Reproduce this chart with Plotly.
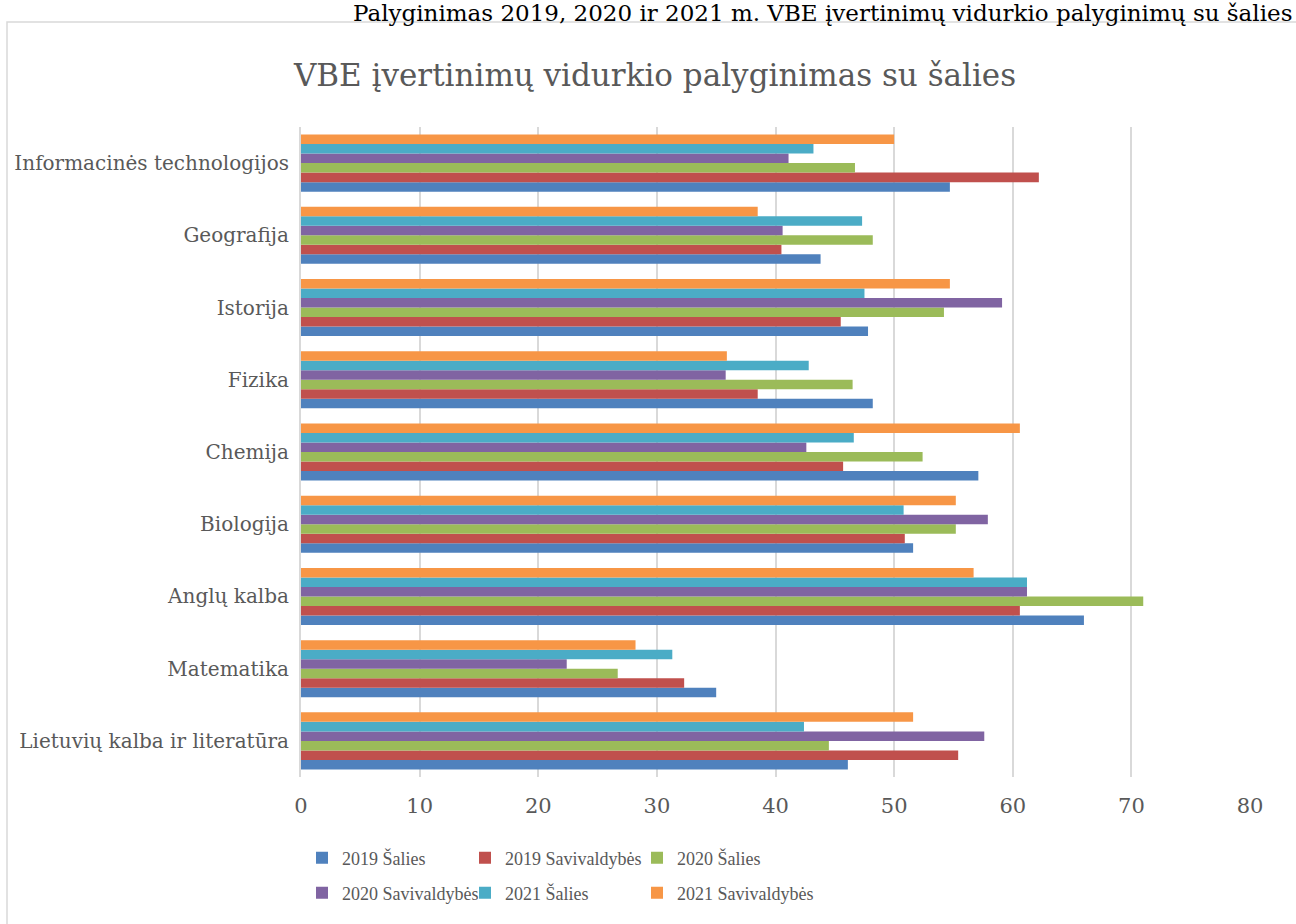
import plotly.graph_objects as go

categories = ["Lietuvių kalba ir literatūra", "Matematika", "Anglų kalba", "Biologija",
              "Chemija", "Fizika", "Istorija", "Geografija", "Informacinės technologijos"]

series_names = ["2019 Šalies", "2019 Savivaldybės", "2020 Šalies",
                "2020 Savivaldybės", "2021 Šalies", "2021 Savivaldybės"]

s2019_salies = [46.1, 35.0, 66.0, 51.6, 57.1, 48.2, 47.8, 43.8, 54.7]
s2019_sav = [55.4, 32.3, 60.6, 50.9, 45.7, 38.5, 45.5, 40.5, 62.2]
s2020_salies = [44.5, 26.7, 71.0, 55.2, 52.4, 46.5, 54.2, 48.2, 46.7]
s2020_sav = [57.6, 22.4, 61.2, 57.9, 42.6, 35.8, 59.1, 40.6, 41.1]
s2021_salies = [42.4, 31.3, 61.2, 50.8, 46.6, 42.8, 47.5, 47.3, 43.2]
s2021_sav = [51.6, 28.2, 56.7, 55.2, 60.6, 35.9, 54.7, 38.5, 50.0]

colors = ["#4F81BD", "#C0504D", "#9BBB59", "#8064A2", "#4BACC6", "#F79646"]
values = [s2019_salies, s2019_sav, s2020_salies, s2020_sav, s2021_salies, s2021_sav]

FONT = "DejaVu Serif"
LFONT = "Liberation Serif"
GRAY = "#595959"

W, H = 1296, 924
L, R, T, B = 301, 46, 127, 147
pw, ph = W - L - R, H - T - B


def px_x(p):
    return (p - L) / pw


def px_y(p):
    return (H - B - p) / ph


legend_ids = ["legend", "legend2", "legend3", "legend4", "legend5", "legend6"]
col_x = [302, 465, 637]
row_y = [858, 893]

fig = go.Figure()
for i, (name, vals, col) in enumerate(zip(series_names, values, colors)):
    fig.add_trace(go.Bar(
        x=vals, y=categories, orientation="h", name=name,
        marker=dict(color=col, line=dict(width=0)),
        legend=legend_ids[i],
    ))

legend_layout = {}
for i, lid in enumerate(legend_ids):
    legend_layout[lid] = dict(
        orientation="h", xanchor="left", yanchor="middle",
        x=px_x(col_x[i % 3]), y=px_y(row_y[i // 3]),
        font=dict(family=LFONT, size=18, color=GRAY),
        bgcolor="rgba(0,0,0,0)", borderwidth=0,
    )

fig.update_layout(
    width=W, height=H,
    margin=dict(l=L, r=R, t=T, b=B),
    paper_bgcolor="white", plot_bgcolor="white",
    barmode="group", bargap=0.21, bargroupgap=0,
    title=dict(text="VBE įvertinimų vidurkio palyginimas su šalies",
               x=655 / W, xanchor="center", y=1 - 75 / H, yanchor="middle",
               xref="container", yref="container",
               font=dict(family=FONT, size=31, color=GRAY)),
    xaxis=dict(range=[0, 80], dtick=10, tick0=0, showgrid=True,
               gridcolor="#d9d9d9", gridwidth=2, zeroline=False,
               showline=False, ticks="outside", ticklen=10,
               tickcolor="rgba(0,0,0,0)",
               tickfont=dict(family=FONT, size=21, color=GRAY)),
    yaxis=dict(categoryorder="array", categoryarray=categories,
               showgrid=False, zeroline=False, showline=True,
               linecolor="#d9d9d9", linewidth=2,
               ticks="outside", ticklen=6, tickcolor="rgba(0,0,0,0)",
               tickfont=dict(family=FONT, size=20, color=GRAY)),
    showlegend=True,
    **legend_layout,
)

fig.add_shape(type="rect", xref="paper", yref="paper",
              x0=px_x(7), x1=px_x(1305), y0=px_y(935), y1=px_y(22),
              line=dict(color="#d9d9d9", width=1.5), fillcolor="rgba(0,0,0,0)",
              layer="below")

fig.add_annotation(text="Palyginimas 2019, 2020 ir 2021 m. VBE įvertinimų vidurkio palyginimų su šalies",
                   xref="paper", yref="paper", x=px_x(1294), y=px_y(-2),
                   xanchor="right", yanchor="top", showarrow=False,
                   font=dict(family=FONT, size=23, color="black"))

fig.write_html("out.html", post_script="document.body.style.margin='0';",
               config={"displayModeBar": False})
